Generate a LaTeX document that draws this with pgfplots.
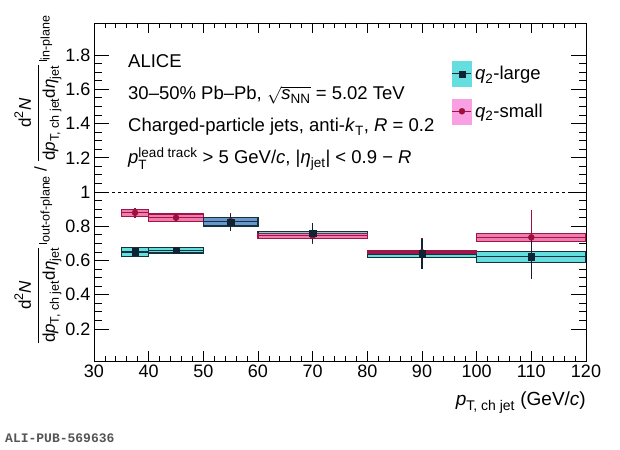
\documentclass[border=0pt]{standalone}
\usepackage{fontspec}
\setmainfont{Liberation Sans}
\setmonofont{Liberation Mono}
\usepackage{amsmath}
\usepackage{pgfplots}
\usepackage{pgfplotstable}
\pgfplotsset{compat=1.18}
\DeclareMathSizes{17}{17}{12.5}{10}
\DeclareMathSizes{18.5}{18.5}{13.5}{10}
\DeclareMathSizes{19}{19}{14}{10}

\definecolor{cyanfill}{RGB}{100,222,222}
\definecolor{cyanedge}{RGB}{20,50,62}
\definecolor{pinkfill}{RGB}{240,125,175}
\definecolor{pinkedge}{RGB}{160,20,70}
\definecolor{overlap}{RGB}{105,150,205}
\definecolor{legpink}{RGB}{248,160,225}
\definecolor{markL}{RGB}{15,35,50}
\definecolor{markS}{RGB}{155,15,60}
\definecolor{aligray}{RGB}{85,85,85}

\pgfplotstableread{
x y ey
37.5 0.650 0.015
45 0.660 0.012
55 0.823 0.048
70 0.759 0.058
90 0.638 0.090
110 0.622 0.130
}\tabL

\pgfplotstableread{
x y ey
37.5 0.879 0.030
45 0.850 0.025
55 0.830 0.045
70 0.745 0.050
90 0.648 0.085
110 0.735 0.160
}\tabS

\newcommand{\sysbox}[7]{%
  \addplot[draw=#7, line width=1.3pt, fill=#6, forget plot] coordinates {(#1,#3) (#2,#3) (#2,#4) (#1,#4) (#1,#3)} -- cycle;
  \addplot[draw=#7, line width=1.3pt, forget plot] coordinates {(#1,#5) (#2,#5)};
}

\newcommand{\dNfrac}{\genfrac{}{}{1.2pt}{0}{\text{d}^{\text{2}}\textit{N}}{\text{d}\textit{p}_{\text{T, ch jet}}\text{d}\textit{η}_{\text{jet}}}}
\newcommand{\evalbar}[1]{\mathord{\rule[-4pt]{1pt}{8pt}}\text{\fontsize{12.5}{12.5}\selectfont\raisebox{-7pt}{#1}}}

\begin{document}
\begin{tikzpicture}
\path[use as bounding box] (0,0) rectangle (620pt,449pt);
\begin{axis}[
  at={(94pt,88pt)}, anchor=south west,
  scale only axis, width=492pt, height=338pt,
  xmin=30, xmax=120, ymin=0.013, ymax=1.987,
  xtick={30,40,50,60,70,80,90,100,110,120},
  ytick={0.2,0.4,0.6,0.8,1,1.2,1.4,1.6,1.8},
  minor x tick num=4, minor y tick num=3,
  major tick length=10pt, minor tick length=5pt,
  ytick style={/pgfplots/major tick length=15pt, /pgfplots/minor tick length=7.5pt},
  tick style={black, line width=0.8pt},
  axis line style={line width=0.9pt},
  tick label style={font=\fontsize{18}{18}\selectfont},
  /pgf/number format/assume math mode=true,
  legend style={at={(0.727,0.8876)}, anchor=north west, draw=none, fill=none,
    font=\fontsize{18.5}{20}\selectfont, row sep=12pt, column sep=3pt, inner sep=0pt,
    nodes={inner sep=0pt}},
  legend cell align=left,
]
\addlegendimage{legend image code/.code={
  \fill[cyanfill] (0pt,-12.5pt) rectangle (19pt,12.5pt);
  \draw[cyanedge, line width=1.2pt] (0pt,0pt) -- (19pt,0pt);
  \fill[markL] (6.5pt,-3pt) rectangle (12.5pt,3pt);
}}
\addlegendentry{\textit{q}$_{\text{2}}$-large}
\addlegendimage{legend image code/.code={
  \fill[legpink] (0pt,-12.5pt) rectangle (19pt,12.5pt);
  \draw[pinkedge, line width=1.2pt] (0pt,0pt) -- (19pt,0pt);
  \fill[markS] (9.5pt,0pt) circle (3pt);
}}
\addlegendentry{\textit{q}$_{\text{2}}$-small}

\addplot[black, dash pattern=on 3pt off 3pt, line width=0.7pt, forget plot] coordinates {(30,1) (120,1)};

% q2-large systematic boxes
\sysbox{35}{40}{0.622}{0.677}{0.650}{cyanfill}{cyanedge}
\sysbox{40}{50}{0.643}{0.676}{0.660}{cyanfill}{cyanedge}
\sysbox{50}{60}{0.800}{0.852}{0.823}{cyanfill}{cyanedge}
\sysbox{60}{80}{0.748}{0.769}{0.759}{cyanfill}{cyanedge}
\sysbox{80}{100}{0.619}{0.657}{0.638}{cyanfill}{cyanedge}
\sysbox{100}{120}{0.589}{0.651}{0.622}{cyanfill}{cyanedge}
% q2-small systematic boxes
\sysbox{35}{40}{0.856}{0.899}{0.879}{pinkfill}{pinkedge}
\sysbox{40}{50}{0.827}{0.872}{0.850}{pinkfill}{pinkedge}
\sysbox{50}{60}{0.801}{0.852}{0.826}{overlap}{cyanedge}
\sysbox{60}{80}{0.727}{0.757}{0.745}{pinkfill}{pinkedge}
\sysbox{80}{100}{0.642}{0.657}{0.650}{pinkfill}{pinkedge}
\sysbox{100}{120}{0.710}{0.759}{0.735}{pinkfill}{pinkedge}

\addplot[only marks, mark=*, mark size=3pt, color=markS, forget plot,
  error bars/.cd, y dir=both, y explicit, error mark=none,
  error bar style={line width=1.5pt, color=markS}]
  table[x=x, y=y, y error=ey] {\tabS};
\addplot[only marks, mark=square*, mark size=3.3pt, color=markL, forget plot,
  error bars/.cd, y dir=both, y explicit, error mark=none,
  error bar style={line width=1.5pt, color=markL}]
  table[x=x, y=y, y error=ey] {\tabL};
\end{axis}

\begin{scope}[every node/.style={font=\fontsize{18.5}{20}\selectfont, inner sep=0pt}]
\node[anchor=base west] at (128pt,381pt) {ALICE};
\node[anchor=base west] at (128pt,349pt) {30–50\% Pb–Pb, $\sqrt{\textit{s}_{\text{NN}}}$ = 5.02 TeV};
\node[anchor=base west] at (128pt,317pt) {Charged-particle jets, anti-\textit{k}$_{\text{T}}$, \textit{R} = 0.2};
\node[anchor=base west] at (128pt,285.5pt) {\textit{p}$_{\text{T}}^{\text{lead track}}$ > 5 GeV/\textit{c}, |\textit{η}$_{\text{jet}}$| < 0.9 − \textit{R}};
\end{scope}
\node[anchor=base east, inner sep=0pt, font=\fontsize{19}{20}\selectfont] at (586pt,43pt) {\textit{p}$_{\text{T, ch jet}}$ (GeV/\textit{c})};
\node[rotate=90, anchor=center, inner sep=0pt, font=\fontsize{17}{20}\selectfont] at (38pt,269pt) {$\dNfrac\,\evalbar{out-of-plane}\;\text{\raisebox{-4pt}{/}}\;\dNfrac\,\evalbar{in-plane}$};
\node[anchor=base west, inner sep=0pt, text=aligray, font=\ttfamily\bfseries\fontsize{13}{13}\selectfont] at (5pt,6pt) {ALI-PUB-569636};
\end{tikzpicture}
\end{document}
